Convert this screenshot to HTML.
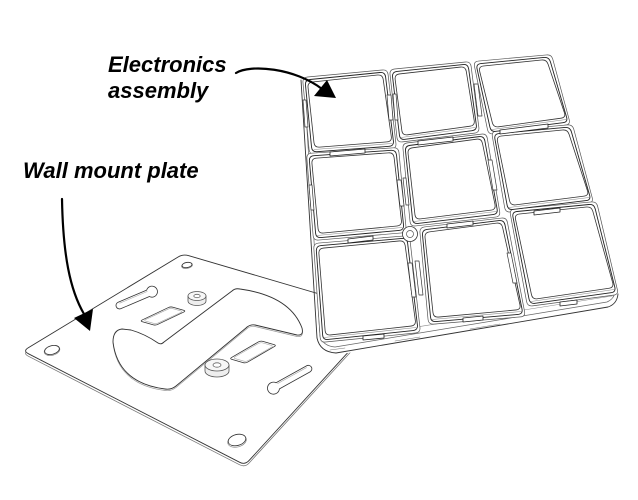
<!DOCTYPE html>
<html>
<head>
<meta charset="utf-8">
<style>
  html,body{margin:0;padding:0;background:#fff;}
  svg{display:block;}
  .lbl{font-family:"Liberation Sans",Arial,sans-serif;font-weight:bold;font-style:italic;font-size:22px;fill:#000;}
</style>
</head>
<body>
<svg id="dg" width="638" height="500" viewBox="0 0 638 500" xmlns="http://www.w3.org/2000/svg">
  <rect width="638" height="500" fill="#fff"/>

  <!-- ============ WALL MOUNT PLATE ============ -->
  <g stroke-linejoin="round" stroke-linecap="round">
    <path d="M188.8,258.2 L384,315.5 L249,463.1 Q245,467.5 239.7,464.8 L28.3,356.2 Q23,353.5 28.1,350.4 L177.9,259.6 Q183,256.5 188.8,258.2 Z" fill="#fff" stroke="#777" stroke-width="0.8"/>
    <path d="M188.8,255.7 L384,313 L249,460.6 Q245,465 239.7,462.3 L28.3,353.7 Q23,351 28.1,347.9 L177.9,257.1 Q183,254 188.8,255.7 Z" fill="#fff" stroke="#333" stroke-width="0.9"/>

    <!-- holes -->
    <g fill="#fff">
      <ellipse cx="187" cy="265.5" rx="5.5" ry="3" transform="rotate(-10 187 265.5)" stroke="#888" stroke-width="0.7"/>
      <ellipse cx="187" cy="265" rx="5" ry="2.6" transform="rotate(-10 187 265)" stroke="#333" stroke-width="0.8"/>
      <ellipse cx="52" cy="350.5" rx="8" ry="4.8" transform="rotate(-15 52 350.5)" stroke="#888" stroke-width="0.7"/>
      <ellipse cx="52" cy="350" rx="7.5" ry="4.3" transform="rotate(-15 52 350)" stroke="#333" stroke-width="0.8"/>
      <ellipse cx="237" cy="441" rx="9.5" ry="6" transform="rotate(-15 237 441)" stroke="#888" stroke-width="0.7"/>
      <ellipse cx="237" cy="440" rx="9" ry="5.5" transform="rotate(-15 237 440)" stroke="#333" stroke-width="0.8"/>
    </g>

    <!-- upper keyhole -->
    <g transform="translate(137,298) rotate(-23)" fill="#fff">
      <path d="M-19,-3.5 L12,-3.5 A5.5,5.5 0 1,1 12,3.5 L-19,3.5 A3.5,3.5 0 0,1 -19,-3.5 Z" stroke="#333" stroke-width="0.8"/>
      <path d="M-18,-2 L12,-2" stroke="#aaa" stroke-width="0.6" fill="none"/>
    </g>
    <!-- lower keyhole -->
    <g transform="translate(290,379) rotate(-29)" fill="#fff">
      <path d="M-14,-3.5 L21,-3.5 A3.5,3.5 0 0,1 21,3.5 L-14,3.5 A6,6 0 1,1 -14,-3.5 Z" stroke="#333" stroke-width="0.8"/>
      <path d="M-13,-2 L20,-2" stroke="#aaa" stroke-width="0.6" fill="none"/>
    </g>

    <!-- rectangular slots -->
    <polygon class="rs" points="140,321 170.6,306.5 186,311 155.4,325.5" fill="#fff" stroke="#333" stroke-width="0.8"/>
    <polygon class="rs" points="143.5,320.5 170.5,308 183,311.5 156,324" fill="none" stroke="#aaa" stroke-width="0.6"/>
    <polygon class="rs" points="229.5,358.7 260.5,340.7 276.5,345.3 245.5,363.3" fill="#fff" stroke="#333" stroke-width="0.8"/>
    <polygon class="rs" points="233,358 260.5,342.3 273.5,346 246,361.8" fill="none" stroke="#aaa" stroke-width="0.6"/>

    <!-- S cutout -->
    <path d="M113,343.5 Q113,331.5 122,330.5 L131,331.5 Q145,335.5 158,344.5 Q161,346.5 164,343.5 L232,292.5 Q235,289.5 240,290.5 Q290,297.5 302,329.5 Q304,337.5 297,336.5 L255,326.5 Q250,325.5 246,329.5 L176,387.5 Q171,391.5 165,390.5 Q118,384.5 113,343.5 Z" fill="none" stroke="#999" stroke-width="0.7"/>
    <path d="M113,342 Q113,330 122,329 L131,330 Q145,334 158,343 Q161,345 164,342 L232,291 Q235,288 240,289 Q290,296 302,328 Q304,336 297,335 L255,325 Q250,324 246,328 L176,386 Q171,390 165,389 Q118,383 113,342 Z" fill="#fff" stroke="#333" stroke-width="0.9"/>

    <!-- standoff 1 -->
    <g stroke="#555" stroke-width="0.8">
      <path d="M188,296 L188,301 A9,4.5 0 0,0 206,301 L206,296 Z" fill="#eee"/>
      <ellipse cx="197" cy="296" rx="9" ry="4.5" fill="#f7f7f7"/>
      <ellipse cx="197" cy="296" rx="3.2" ry="1.7" fill="#fff" stroke="#666"/>
    </g>
    <!-- standoff 2 -->
    <g stroke="#555" stroke-width="0.8">
      <path d="M205,365 L205,371 A12,6 0 0,0 229,371 L229,365 Z" fill="#eee"/>
      <ellipse cx="217" cy="365" rx="12" ry="6" fill="#f7f7f7"/>
      <ellipse cx="217" cy="365" rx="4" ry="2.2" fill="#fff" stroke="#666"/>
    </g>
  </g>

  <!-- ============ ELECTRONICS ASSEMBLY ============ -->
  <g stroke-linejoin="round" stroke-linecap="round" fill="none">
    <polygon points="300,77 549,53 571,118 595,200 620,292 615,307 336,355 322,348" fill="#fff" stroke="none"/>

    <path d="M301,80 L317,338 Q320,352 336,353 L608,307 Q617,304 618,294" stroke="#333" stroke-width="0.9"/>
    <path d="M304,82 L320,336 Q323,346 335,347 L607,302 Q614,299 615,292" stroke="#666" stroke-width="0.7"/>
    <path d="M322,342 L612,296" stroke="#888" stroke-width="0.6"/>
    <path d="M330,350 L345,348 M395,341 L420,337 M470,329 L500,324" stroke="#777" stroke-width="0.6"/>

    <g stroke="#555" stroke-width="0.7" fill="#fff">
      <polygon class="rr" points="302.5,77.5 387.5,69.5 396.5,148.5 309.5,154.5"/>
      <polygon class="rr" points="389.5,69.5 470.5,61.5 479.5,132.5 397.5,142.5"/>
      <polygon class="rr" points="473.5,61.5 551.5,54.5 570.5,124.5 488.5,134.5"/>
      <polygon class="rr" points="306.5,153.5 398.5,147.5 406.5,232.5 313.5,240.5"/>
      <polygon class="rr" points="402.5,143.5 486.5,133.5 500.5,216.5 410.5,226.5"/>
      <polygon class="rr" points="491.5,131.5 572.5,124.5 593.5,202.5 505.5,212.5"/>
      <polygon class="rr" points="313.5,243.5 409.5,235.5 420.5,332.5 320.5,342.5"/>
      <polygon class="rr" points="419.5,227.5 506.5,217.5 525.5,316.5 428.5,324.5"/>
      <polygon class="rr" points="509.5,209.5 596.5,201.5 618.5,294.5 527.5,306.5"/>
    </g>

    <g stroke="#222" stroke-width="0.9" fill="#fff">
      <polygon class="rr" points="305,80 385,72 394,146 312,152"/>
      <polygon class="rr" points="392,72 468,64 477,130 400,140"/>
      <polygon class="rr" points="476,64 549,57 568,122 491,132"/>
      <polygon class="rr" points="309,156 396,150 404,230 316,238"/>
      <polygon class="rr" points="405,146 484,136 498,214 413,224"/>
      <polygon class="rr" points="494,134 570,127 591,200 508,210"/>
      <polygon class="rr" points="316,246 407,238 418,330 323,340"/>
      <polygon class="rr" points="422,230 504,220 523,314 431,322"/>
      <polygon class="rr" points="512,212 594,204 616,292 530,304"/>
    </g>
    <g stroke="#333" stroke-width="0.8" fill="#fff">
      <polygon class="rr" points="307.5,82.5 382.5,74.5 392,141.5 314.5,147.5"/>
      <polygon class="rr" points="394.5,74.5 465.5,66.5 475,125.5 402.5,135.5"/>
      <polygon class="rr" points="478.5,66.5 546.5,59.5 566,117.5 493.5,127.5"/>
      <polygon class="rr" points="311.5,158.5 393.5,152.5 402,225.5 318.5,233.5"/>
      <polygon class="rr" points="407.5,148.5 481.5,138.5 496,209.5 415.5,219.5"/>
      <polygon class="rr" points="496.5,136.5 567.5,129.5 589,195.5 510.5,205.5"/>
      <polygon class="rr" points="318.5,248.5 404.5,240.5 416,325.5 325.5,335.5"/>
      <polygon class="rr" points="424.5,232.5 501.5,222.5 521,309.5 433.5,317.5"/>
      <polygon class="rr" points="514.5,214.5 591.5,206.5 614,287.5 532.5,299.5"/>
    </g>
    <g stroke="#888" stroke-width="0.6">
      <path d="M314,149.5 L392,143.5"/>
      <path d="M401,137.5 L475,127.5"/>
      <path d="M492,129.5 L566,119.5"/>
      <path d="M317,235.5 L402,227.5"/>
      <path d="M414,221.5 L496,211.5"/>
      <path d="M509,207.5 L589,197.5"/>
      <path d="M324,337.5 L416,327.5"/>
      <path d="M432,319.5 L521,311.5"/>
      <path d="M531,301.5 L614,289.5"/>
    </g>

    <g stroke="#222" stroke-width="0.8" fill="#fff">
      <polygon points="330,152 365,149 365,153 330,156"/>
      <polygon points="418,141 453,137 453,141 418,145"/>
      <polygon points="500,130 548,124 548,128 500,134"/>
      <polygon points="348,239 373,236 373,240 348,243"/>
      <polygon points="447,224 473,221 473,225 447,228"/>
      <polygon points="534,211 560,208 560,212 534,215"/>
      <polygon points="363,336 384,334 384,338 363,340"/>
      <polygon points="463,318 483,316 483,320 463,322"/>
      <polygon points="560,302 577,300 577,304 560,306"/>
    </g>
    <g stroke="#333" stroke-width="0.7" fill="#fff">
      <polygon points="387,95 391,95 393,120 389,120"/>
      <polygon points="393,94 396,94 398,120 395,120"/>
      <polygon points="474,84 478,84 482,116 478,116"/>
      <polygon points="397,180 401,180 404,206 400,206"/>
      <polygon points="403,178 406,178 409,205 406,205"/>
      <polygon points="488,160 492,160 497,190 493,190"/>
      <polygon points="408,263 412,263 416,297 412,297"/>
      <polygon points="415,261 419,261 423,295 419,295"/>
      <polygon points="507,253 511,253 517,283 513,283"/>
      <polygon points="303,100 306,100 308,127 305,127"/>
      <polygon points="309,185 312,185 314,210 311,210"/>
    </g>
    <circle cx="410" cy="234" r="7.5" fill="#fff" stroke="#333" stroke-width="0.8"/>
    <circle cx="410" cy="234" r="3.5" fill="#fff" stroke="#555" stroke-width="0.7"/>
  </g>

  <!-- ============ LABELS & ARROWS ============ -->
  <text class="lbl" x="108" y="72">Electronics</text>
  <text class="lbl" x="108" y="98">assembly</text>
  <text class="lbl" x="23" y="178">Wall mount plate</text>

  <path d="M236,73 C250,64 295,68 322,89" fill="none" stroke="#000" stroke-width="2.2" stroke-linecap="round"/>
  <polygon points="314,96 327,80 336,98" fill="#000"/>

  <path d="M62,199 C63,255 70,290 84,314" fill="none" stroke="#000" stroke-width="2.2" stroke-linecap="round"/>
  <polygon points="74,318 93,309 90,331" fill="#000"/>
</svg>
<script>
(function(){
  var NS="http://www.w3.org/2000/svg";
  function conv(sel, r){
    var list=document.querySelectorAll(sel);
    for(var k=0;k<list.length;k++){
      var p=list[k];
      var nums=p.getAttribute('points').trim().split(/[\s,]+/).map(Number);
      var pts=[];
      for(var i=0;i<nums.length;i+=2)pts.push([nums[i],nums[i+1]]);
      var n=pts.length,d='';
      for(var i=0;i<n;i++){
        var P=pts[i],A=pts[(i-1+n)%n],B=pts[(i+1)%n];
        var da=Math.hypot(A[0]-P[0],A[1]-P[1]),db=Math.hypot(B[0]-P[0],B[1]-P[1]);
        var ra=Math.min(r,da/2),rb=Math.min(r,db/2);
        var p1=[P[0]+(A[0]-P[0])*ra/da,P[1]+(A[1]-P[1])*ra/da];
        var p2=[P[0]+(B[0]-P[0])*rb/db,P[1]+(B[1]-P[1])*rb/db];
        d+=(i===0?'M':'L')+p1[0].toFixed(2)+','+p1[1].toFixed(2)+' Q'+P[0]+','+P[1]+' '+p2[0].toFixed(2)+','+p2[1].toFixed(2)+' ';
      }
      d+='Z';
      var path=document.createElementNS(NS,'path');
      for(var j=0;j<p.attributes.length;j++){
        var at=p.attributes[j];
        if(at.name!=='points'&&at.name!=='class')path.setAttribute(at.name,at.value);
      }
      path.setAttribute('d',d);
      p.parentNode.replaceChild(path,p);
    }
  }
  try{conv('polygon.rr',5);conv('polygon.rs',2.5);}catch(e){}
})();
</script>
</body>
</html>
